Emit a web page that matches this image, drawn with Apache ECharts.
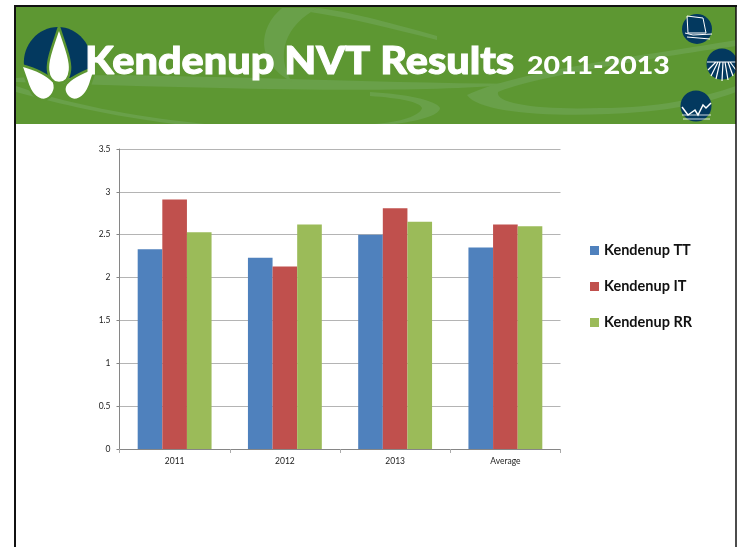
<!DOCTYPE html>
<html><head><meta charset="utf-8">
<style>html,body{margin:0;padding:0;background:#fff}#c{width:738px;height:547px}</style>
<script src="https://cdn.jsdelivr.net/npm/echarts@6/dist/echarts.min.js"></script></head>
<body><div id="c"></div>
<script>
const categories = ['2011','2012','2013','Average'];
const kendenupTT = [2.33,2.23,2.50,2.35];
const kendenupIT = [2.91,2.13,2.81,2.62];
const kendenupRR = [2.53,2.62,2.65,2.60];
const navy='#03395f', green='#5d9732', swoosh='#69a049';
let shapeId=0;
function P(d,fill,stroke,lw){
  const name='deco'+(shapeId++);
  echarts.graphic.registerShape(name,echarts.graphic.extendPath(d,{}));
  return {type:name,style:{fill:fill||'none',stroke:stroke||'none',lineWidth:lw||0}};
}
const el=[
 {type:'rect',shape:{x:16,y:7,width:720,height:117},style:{fill:green}},
 P('M16 78 C120 70 300 82 520 84 C430 92 300 92 16 82Z',swoosh),
 P('M16 86 C80 108 150 118 205 124 L175 124 C110 116 60 104 16 92Z',swoosh),
 P('M282 8 C258 28 255 62 292 82 C275 55 285 25 318 8Z',swoosh),
 P('M318 8 C350 12 380 20 437 36 L437 40 C390 28 350 18 310 12Z',swoosh),
 P('M736 40 C650 55 520 70 467 95 C480 115 570 118 640 112 C690 108 720 98 736 92 L736 86 C700 98 660 108 600 108 C540 110 495 104 498 92 C530 78 650 58 736 46Z',swoosh),
 P('M370 96 C400 98 420 102 422 108 C420 116 400 122 375 124 L395 124 C425 120 440 114 440 108 C436 100 405 94 370 92Z',swoosh),
 // logo
 P('M24 66 C22 45 38 27 58 27 C78 27 93 45 93 68 L70 78 L48 78Z',navy),
 P('M59 27 C53 45 47 60 48 70 C49 80 53 83 59 83 C65 83 69 80 70 70 C71 60 65 45 59 27Z','#fff',green,2.5),
 P('M21 65 C32 68 47 74 54 82 C57 90 52 98 44 100 C36 100 30 92 27 82Z','#fff',green,2.5),
 P('M96 67 C88 70 72 76 66 84 C62 90 66 98 74 100 C82 100 88 92 91 82Z','#fff',green,2.5),
 // icons
 {type:'circle',shape:{cx:697,cy:29,r:15},style:{fill:navy}},
 P('M687 16 L703 18 L706 33 L688 33Z',null,'#fff',1),
 P('M685 33 L693 35 L712 34 M687 37 L710 39',null,'#fff',1),
 {type:'circle',shape:{cx:722,cy:64,r:15.5},style:{fill:navy}},
 P('M707 62 L736 62 M711 76 L718 62 M716 79 L720 62 M722 81 L723 62 M728 80 L725 62 M733 76 L728 62 M708 70 L716 62 M736 70 L730 62',null,'#fff',1.2),
 {type:'circle',shape:{cx:696,cy:106,r:15.5},style:{fill:navy}},
 P('M682 107 L688 115 L695 110 L698 115 L703 105 L706 108 L711 103',null,'#fff',1.5),
 P('M682 115 L711 115 M683 119 L710 119',null,'#fff',0.8),
 // mask and frame
 {type:'rect',shape:{x:16,y:124,width:720,height:423},style:{fill:'#fff'}},
 {type:'rect',shape:{x:736,y:0,width:2,height:124},style:{fill:'#fff'}},
 {type:'line',shape:{x1:14,y1:6,x2:737,y2:6},style:{stroke:'#111',lineWidth:2}},
 {type:'line',shape:{x1:15,y1:6,x2:15,y2:547},style:{stroke:'#111',lineWidth:2}},
 {type:'line',shape:{x1:736,y1:6,x2:736,y2:547},style:{stroke:'#111',lineWidth:1.5}},
 // title
 {type:'text',x:85,y:62,scaleX:1.09,style:{text:'Kendenup NVT Results',fill:'#fff',stroke:'#fff',lineWidth:1,font:'900 38px Lato',textVerticalAlign:'middle'}},
 {type:'text',x:527,y:66,scaleX:1.14,style:{text:'2011-2013',fill:'#fff',font:'900 25px Lato',textVerticalAlign:'middle'}}
];
el.forEach(e=>{e.silent=true;e.z=-10;});
const chart=echarts.init(document.getElementById('c'),null,{renderer:'canvas'});
function s(name,data,color){return {name,type:'bar',data,barGap:'0%',barCategoryGap:'33%',itemStyle:{color},animation:false};}
chart.setOption({
 animation:false,
 graphic:{elements:el},
 textStyle:{fontFamily:'Lato'},
 grid:{left:119.5,top:149,width:441,height:300,containLabel:false},
 legend:{orient:'vertical',left:590,top:243,padding:0,itemWidth:9,itemHeight:9,itemGap:21,icon:'rect',
  textStyle:{fontFamily:'Lato',fontWeight:'bold',fontSize:14.5,color:'#111'},data:['Kendenup TT','Kendenup IT','Kendenup RR']},
 xAxis:{type:'category',data:categories,
  axisLine:{lineStyle:{color:'#868686'}},axisTick:{show:true,length:4,alignWithLabel:false,lineStyle:{color:'#aaa'}},
  axisLabel:{fontFamily:'Lato',fontSize:8.5,color:'#222',margin:8}},
 yAxis:{type:'value',min:0,max:3.5,interval:0.5,
  axisLine:{show:true,lineStyle:{color:'#868686'}},axisTick:{show:true,length:3,lineStyle:{color:'#868686'}},
  splitLine:{lineStyle:{color:'#b4b4b4'}},
  axisLabel:{fontFamily:'Lato',fontSize:8.5,color:'#222',margin:9}},
 series:[s('Kendenup TT',kendenupTT,'#4f81bd'),s('Kendenup IT',kendenupIT,'#c0504d'),s('Kendenup RR',kendenupRR,'#9bbb59')]
});
</script></body></html>
